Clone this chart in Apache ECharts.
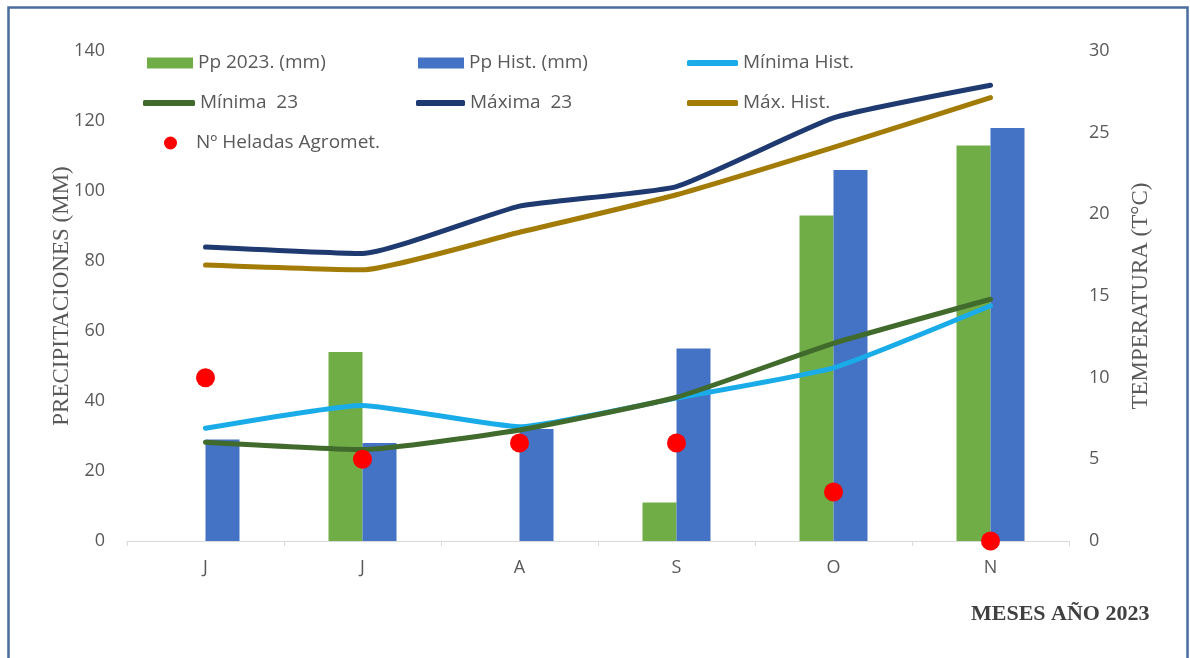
<!DOCTYPE html>
<html>
<head>
<meta charset="utf-8">
<script src="https://cdn.jsdelivr.net/npm/echarts@6/dist/echarts.min.js"></script>
<style>
  html, body { margin: 0; padding: 0; background: #ffffff; }
  #chart { width: 1190px; height: 658px; }
</style>
</head>
<body>
<div id="chart"></div>
<script>
// Months June–November 2023
const months = ['J', 'J', 'A', 'S', 'O', 'N'];

// Precipitation (mm) – left axis
const pp2023 = [0, 54, 0, 11, 93, 113];
const ppHist = [29, 28, 32, 55, 106, 118];

// Temperatures (°C) – right axis
const minHist = [6.9, 8.3, 7.0, 8.75, 10.6, 14.4];
const min23 = [6.05, 5.6, 6.8, 8.8, 12.1, 14.8];
const max23 = [18.0, 17.6, 20.5, 21.7, 25.9, 27.9];
const maxHist = [16.9, 16.6, 18.9, 21.2, 24.1, 27.15];

// Number of agrometeorological frosts – right axis
const heladas = [10, 5, 6, 6, 3, 0];

// Axis scales
const ppScale = { min: 0, max: 140, step: 20 };
const tScale = { min: 0, max: 30, step: 5 };

const sansFont = '"Open Sans", "Liberation Sans", sans-serif';
const serifFont = '"Liberation Serif", "DejaVu Serif", serif';
const labelGrey = '#595959';

const colors = {
  pp2023: '#70ad47',
  ppHist: '#4472c4',
  minHist: '#1aace8',
  min23: '#416b2c',
  max23: '#1f3a70',
  maxHist: '#a37c08',
  heladas: '#ff0000'
};

function legendCell(name, left, centerY, icon, w, h) {
  return {
    data: [name],
    left: left,
    top: centerY - 11,
    padding: 0,
    icon: icon,
    itemWidth: w,
    itemHeight: h,
    selectedMode: false,
    textStyle: { fontFamily: sansFont, fontSize: 19, color: labelGrey, lineHeight: 22 }
  };
}

function lineSeries(name, data, color, z) {
  return {
    name: name,
    type: 'line',
    yAxisIndex: 1,
    data: data,
    symbol: 'none',
    smooth: 0.15,
    z: z,
    lineStyle: { color: color, width: 5, cap: 'round', join: 'round' },
    itemStyle: { color: color }
  };
}

const chart = echarts.init(document.getElementById('chart'), null, { renderer: 'canvas' });

chart.setOption({
  backgroundColor: '#ffffff',
  animation: false,
  grid: { left: 127, right: 121, top: 51, bottom: 117, containLabel: false },
  legend: [
    legendCell('Pp 2023. (mm)', 147, 63, 'rect', 46, 11),
    legendCell('Pp Hist. (mm)', 418, 63, 'rect', 46, 11),
    legendCell('Mínima Hist.', 687, 63, 'roundRect', 51, 6),
    legendCell('Mínima  23', 143, 103, 'roundRect', 52, 6),
    legendCell('Máxima  23', 416, 103, 'roundRect', 49, 6),
    legendCell('Máx. Hist.', 687, 103, 'roundRect', 51, 6),
    legendCell('Nº Heladas Agromet.', 164, 143, 'circle', 41, 13)
  ],
  xAxis: {
    type: 'category',
    data: months,
    boundaryGap: true,
    axisLine: { lineStyle: { color: '#d9d9d9', width: 1 } },
    axisTick: { show: true, length: 5, lineStyle: { color: '#d9d9d9' } },
    axisLabel: { margin: 18, fontFamily: sansFont, fontSize: 18, color: labelGrey },
    splitLine: { show: false }
  },
  yAxis: [
    {
      type: 'value',
      min: ppScale.min,
      max: ppScale.max,
      interval: ppScale.step,
      name: 'PRECIPITACIONES (MM)',
      nameLocation: 'middle',
      nameRotate: 90,
      nameGap: 54,
      nameMoveOverlap: false,
      nameTextStyle: { fontFamily: serifFont, fontSize: 23, color: labelGrey },
      axisLine: { show: false },
      axisTick: { show: false },
      splitLine: { show: false },
      axisLabel: { margin: 22, fontFamily: sansFont, fontSize: 18, color: labelGrey }
    },
    {
      type: 'value',
      min: tScale.min,
      max: tScale.max,
      interval: tScale.step,
      name: 'TEMPERATURA (T°C)',
      nameLocation: 'middle',
      nameRotate: 90,
      nameGap: 60,
      nameMoveOverlap: false,
      nameTextStyle: { fontFamily: serifFont, fontSize: 23, color: labelGrey },
      axisLine: { show: false },
      axisTick: { show: false },
      splitLine: { show: false },
      axisLabel: { margin: 20, fontFamily: sansFont, fontSize: 18, color: labelGrey }
    }
  ],
  series: [
    {
      name: 'Pp 2023. (mm)',
      type: 'bar',
      yAxisIndex: 0,
      data: pp2023,
      barWidth: 34,
      barGap: '0%',
      z: 2,
      itemStyle: { color: colors.pp2023 }
    },
    {
      name: 'Pp Hist. (mm)',
      type: 'bar',
      yAxisIndex: 0,
      data: ppHist,
      barWidth: 34,
      barGap: '0%',
      z: 2,
      itemStyle: { color: colors.ppHist }
    },
    lineSeries('Mínima Hist.', minHist, colors.minHist, 3),
    lineSeries('Mínima  23', min23, colors.min23, 4),
    lineSeries('Máxima  23', max23, colors.max23, 4),
    lineSeries('Máx. Hist.', maxHist, colors.maxHist, 4),
    {
      name: 'Nº Heladas Agromet.',
      type: 'scatter',
      yAxisIndex: 1,
      data: heladas,
      symbol: 'circle',
      symbolSize: 19,
      z: 6,
      itemStyle: { color: colors.heladas, opacity: 1 }
    }
  ],
  graphic: [
    {
      type: 'text',
      left: 971,
      top: 603,
      style: {
        text: 'MESES AÑO 2023',
        font: 'bold 22px "Liberation Serif", serif',
        fill: '#404040'
      }
    },
    {
      type: 'rect',
      left: 6,
      top: 5,
      shape: { width: 1179, height: 700 },
      style: { fill: 'none', stroke: '#4a6d9e', lineWidth: 2.5 },
      z: 100
    }
  ]
});
</script>
</body>
</html>
